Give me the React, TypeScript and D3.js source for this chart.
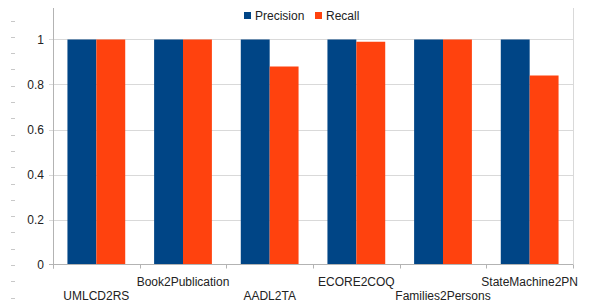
import React, { useRef, useEffect } from 'react';
import * as d3 from 'd3';

const categories = ['UMLCD2RS', 'Book2Publication', 'AADL2TA', 'ECORE2COQ', 'Families2Persons', 'StateMachine2PN'];
const precision = [1, 1, 1, 1, 1, 1];
const recall = [1, 1, 0.88, 0.99, 1, 0.84];
const seriesNames = ['Precision', 'Recall'];
const seriesColors = ['#004586', '#ff420e'];
const yTicks = [0, 0.2, 0.4, 0.6, 0.8, 1];

export default function App() {
    const ref = useRef<SVGSVGElement>(null);

    useEffect(() => {
        const svg = d3.select(ref.current);
        svg.selectAll('*').remove();

        const width = 589;
        const height = 304;
        const marginLeft = 53;
        const marginRight = 16;
        const marginTop = 8;
        const y0 = 264.5;
        const font = '"Liberation Sans", Arial, sans-serif';
        const textColor = '#222';

        const x = d3.scaleBand<string>()
            .domain(categories)
            .range([marginLeft, width - marginRight]);
        const xInner = d3.scaleBand<string>()
            .domain(seriesNames)
            .range([0, x.bandwidth()])
            .paddingOuter(0.5)
            .paddingInner(0);
        const y = d3.scaleLinear()
            .domain([0, 1.14])
            .range([y0, marginTop]);

        // ruler dashes at the far left
        const dashes = d3.range(20.5, height, 16.3);
        svg.append('g')
            .selectAll('line')
            .data(dashes)
            .join('line')
            .attr('x1', 11).attr('x2', 15)
            .attr('y1', d => Math.round(d) + 0.5).attr('y2', d => Math.round(d) + 0.5)
            .attr('stroke', '#c8c8c8');

        // gridlines (with outward ticks)
        svg.append('g')
            .selectAll('line')
            .data(yTicks.slice(1))
            .join('line')
            .attr('x1', marginLeft - 4).attr('x2', width - marginRight)
            .attr('y1', d => Math.round(y(d)) + 0.5).attr('y2', d => Math.round(y(d)) + 0.5)
            .attr('stroke', '#d9d9d9');

        // right border
        svg.append('line')
            .attr('x1', width - marginRight + 0.5).attr('x2', width - marginRight + 0.5)
            .attr('y1', marginTop).attr('y2', y0)
            .attr('stroke', '#d9d9d9');

        // bars
        const data = categories.map((c, i) => ({ c, vals: [precision[i], recall[i]] }));
        const groups = svg.append('g')
            .selectAll('g')
            .data(data)
            .join('g')
            .attr('transform', d => `translate(${x(d.c)},0)`);
        groups.selectAll('rect')
            .data(d => d.vals.map((v, j) => ({ v, j })))
            .join('rect')
            .attr('x', d => xInner(seriesNames[d.j])!)
            .attr('width', xInner.bandwidth())
            .attr('y', d => y(d.v))
            .attr('height', d => y0 - y(d.v))
            .attr('fill', d => seriesColors[d.j]);

        // y axis
        svg.append('line')
            .attr('x1', marginLeft + 0.5).attr('x2', marginLeft + 0.5)
            .attr('y1', marginTop).attr('y2', y0 + 4)
            .attr('stroke', '#b3b3b3');
        svg.append('g')
            .selectAll('text')
            .data(yTicks)
            .join('text')
            .attr('x', 44)
            .attr('y', d => y(d))
            .attr('dy', '0.35em')
            .attr('text-anchor', 'end')
            .attr('font-family', font)
            .attr('font-size', 12)
            .attr('fill', textColor)
            .text(d => d3.format('~g')(d));

        // x axis
        svg.append('line')
            .attr('x1', marginLeft - 4).attr('x2', width - marginRight)
            .attr('y1', y0).attr('y2', y0)
            .attr('stroke', '#b3b3b3');
        const tickXs = categories.map(c => x(c)!).concat([width - marginRight]);
        svg.append('g')
            .selectAll('line')
            .data(tickXs)
            .join('line')
            .attr('x1', d => Math.round(d) + 0.5).attr('x2', d => Math.round(d) + 0.5)
            .attr('y1', y0).attr('y2', y0 + 4)
            .attr('stroke', '#b3b3b3');
        svg.append('g')
            .selectAll('text')
            .data(categories)
            .join('text')
            .attr('x', d => x(d)! + x.bandwidth() / 2)
            .attr('y', (d, i) => (i % 2 === 0 ? 300 : 285.5))
            .attr('text-anchor', 'middle')
            .attr('font-family', font)
            .attr('font-size', 12)
            .attr('fill', textColor)
            .text(d => d);

        // legend
        const legendX = [244, 315];
        const legend = svg.append('g')
            .selectAll('g')
            .data(seriesNames)
            .join('g')
            .attr('transform', (d, i) => `translate(${legendX[i]},12)`);
        legend.append('rect')
            .attr('width', 7).attr('height', 7)
            .attr('fill', (d, i) => seriesColors[i]);
        legend.append('text')
            .attr('x', 11)
            .attr('y', 4)
            .attr('dy', '0.35em')
            .attr('font-family', font)
            .attr('font-size', 12)
            .attr('fill', textColor)
            .text(d => d);
    }, []);

    return (
        <svg ref={ref} width={589} height={304}
            style={{ position: 'absolute', left: 0, top: 0, background: '#fff' }} />
    );
}
